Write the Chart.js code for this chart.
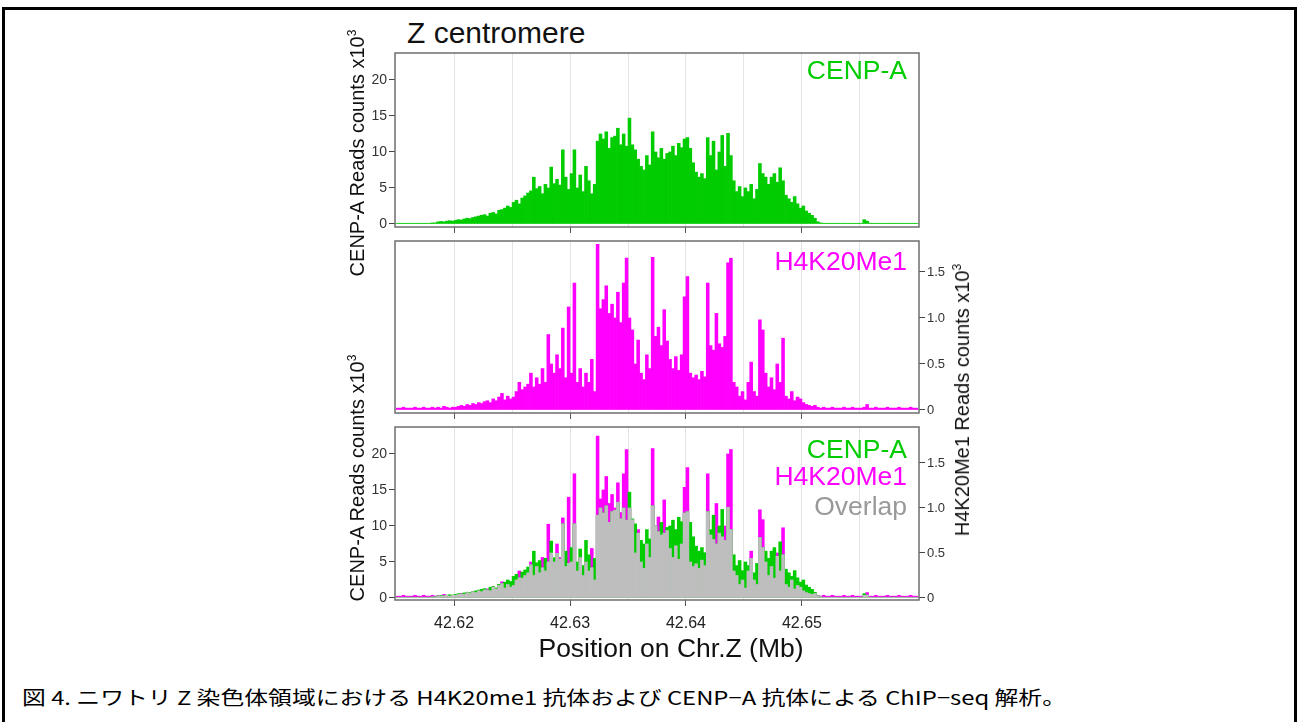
<!DOCTYPE html>
<html>
<head>
<meta charset="utf-8">
<script src="https://cdn.jsdelivr.net/npm/chart.js@4.4.1/dist/chart.umd.min.js"></script>
<style>
  body { margin:0; width:1298px; height:722px; position:relative; overflow:hidden; background:#fff; font-family:'Liberation Sans', Arial, sans-serif; }
  .frame { position:absolute; left:2px; top:7px; width:1295px; height:740px; border:3px solid #000; box-sizing:border-box; }
  canvas.panel { position:absolute; }
  .lbl { position:absolute; white-space:nowrap; line-height:1; }
  .rot { position:absolute; white-space:nowrap; line-height:1; font-size:20px; color:#111; transform:translate(-50%,-50%) rotate(-90deg); }
  sup { font-size:0.6em; vertical-align:0.65em; line-height:0; }
  #caption { position:absolute; left:22px; top:687px; font-family:'Noto Sans CJK JP', sans-serif; font-size:19px; line-height:1; color:#000; white-space:nowrap; transform-origin:left center; }
</style>
</head>
<body>
<div class="frame"></div>

<div class="lbl" style="left:407px; top:18px; font-size:30px; color:#111;">Z centromere</div>

<canvas id="topChart" class="panel" width="700" height="200" style="left:300px; top:40px;"></canvas>
<canvas id="midChart" class="panel" width="700" height="200" style="left:300px; top:230px;"></canvas>
<canvas id="botChart" class="panel" width="700" height="265" style="left:300px; top:415px;"></canvas>

<div class="lbl" style="right:391px; top:57px; font-size:26.5px; color:#00cc00;">CENP-A</div>
<div class="lbl" style="right:391px; top:248px; font-size:26.5px; color:#ff00ff;">H4K20Me1</div>
<div class="lbl" style="right:391px; top:436px; font-size:26.5px; color:#00cc00;">CENP-A</div>
<div class="lbl" style="right:391px; top:463px; font-size:26.5px; color:#ff00ff;">H4K20Me1</div>
<div class="lbl" style="right:391px; top:493px; font-size:26.5px; color:#999999;">Overlap</div>

<div class="rot" style="left:357px; top:153px;">CENP-A Reads counts x10<sup>3</sup></div>
<div class="rot" style="left:357px; top:478px;">CENP-A Reads counts x10<sup>3</sup></div>
<div class="rot" style="left:962px; top:400px;">H4K20Me1 Reads counts x10<sup>3</sup></div>

<div class="lbl" style="left:671px; top:635px; font-size:26.5px; color:#111; transform:translateX(-50%);">Position on Chr.Z (Mb)</div>

<div id="caption">図 4. ニワトリ Z 染色体領域における H4K20me1 抗体および CENP−A 抗体による ChIP−seq 解析。</div>

<script>
// bins of 0.25 kb starting at 42.615 Mb
const binStart = 42.615;
const binWidth = 0.00025;

// CENP-A reads (x10^3)
const cenpa = [
  0.1,0.1,0.1,0.1,0.1,0.1,0.1,0.1,0.1,0.1,0.1,0.1,0.15,0.15,
  0.3,0.35,0.3,0.4,0.45,0.4,
  0.5,0.6,0.55,0.7,0.8,0.75,0.9,1.0,1.1,
  1.2,1.3,1.1,1.5,1.6,1.4,1.9,2.0,2.2,2.5,2.3,
  3.0,3.3,2.8,3.6,3.9,4.3,
  4.6,6.5,4.9,5.2,4.2,5.5,
  5.0,7.9,5.6,6.2,5.4,
  10.3,6.5,4.8,7.0,
  10.3,5.0,6.8,4.5,8.0,6.0,4.2,5.5,
  11.5,12.5,11.8,12.8,10.5,12.0,
  12.2,13.3,11.0,12.5,10.8,
  14.7,
  11.0,10.3,9.0,8.0,7.5,9.5,8.2,
  12.8,
  10.0,9.2,10.5,9.0,9.8,
  10.0,10.8,9.5,11.2,10.6,11.8,
  12.0,10.5,8.5,7.2,6.5,7.0,
  6.3,12.0,9.5,11.5,7.5,10.0,12.3,8.0,
  12.6,9.5,6.0,
  4.5,5.2,3.8,5.0,4.5,5.5,3.5,4.8,
  8.4,7.0,6.5,5.5,
  6.5,7.0,5.8,7.8,6.0,
  4.0,3.5,3.0,3.8,2.8,
  2.2,2.5,1.8,1.5,1.2,0.8,
  0.3,0.15,
  0.1,0.1,0.1,0.1,0.1,0.1,0.1,0.1,0.1,0.1,0.1,0.1,0.1,0.1,
  0.6,0.4,
  0.1,0.1,0.1,0.1,0.1,0.1,0.1,0.1,0.1,0.1,0.1,0.1,0.1,0.1,0.1,0.1,0.1
];

// H4K20Me1 reads (x10^3)
const h4 = [
  0.02,0.02,0.03,0.02,0.02,0.02,0.03,0.02,0.02,0.03,0.02,0.02,0.03,0.02,
  0.03,0.02,0.04,0.03,0.02,0.03,
  0.03,0.04,0.05,0.04,0.06,0.05,0.07,0.06,0.08,
  0.07,0.09,0.1,0.08,0.12,0.1,0.14,
  0.18,0.11,0.15,0.12,
  0.14,0.2,0.3,0.22,0.25,0.28,
  0.4,0.25,0.35,0.28,0.45,0.3,
  0.82,0.5,0.4,0.6,0.45,
  0.89,0.35,1.12,0.4,
  1.38,0.3,0.45,0.25,0.4,0.3,0.55,0.2,
  1.8,1.1,1.2,1.35,1.05,1.15,
  1.0,1.28,0.95,1.38,
  1.65,
  1.0,
  0.87,0.5,0.76,0.4,0.33,0.6,0.45,
  1.66,
  0.8,0.9,0.7,1.09,0.75,
  0.55,0.45,0.58,0.43,0.6,1.23,
  1.45,
  0.4,0.35,0.38,0.33,0.42,0.36,
  1.38,
  0.7,0.65,1.05,0.72,0.68,0.8,
  1.6,
  1.65,0.3,
  0.25,0.15,0.2,0.11,0.3,0.52,0.2,0.15,
  0.98,0.87,
  0.4,0.25,0.35,0.22,0.5,0.3,
  0.78,
  0.15,0.12,0.2,0.1,0.14,0.12,
  0.08,0.06,0.05,0.04,0.05,0.03,
  0.02,0.03,0.02,0.02,0.03,0.02,0.02,0.02,0.03,0.02,0.02,0.03,0.02,0.02,0.02,0.03,
  0.06,
  0.02,0.02,0.03,0.02,0.02,0.02,0.03,0.02,0.02,0.02,0.03,0.02,0.02,0.02,0.03,0.02,0.02
];

const gridTicks = [42.62, 42.625, 42.63, 42.635, 42.64, 42.645, 42.65, 42.655];
const labelTicks = [42.62, 42.63, 42.64, 42.65];
const cenpaTicks = [0, 5, 10, 15, 20];
const h4Ticks = [0, 0.5, 1.0, 1.5];

const xRange = [42.6149, 42.6601];
const topRange = [-0.42, 23.75];
const midRange = [-0.033, 1.837];
const botRange = [-0.28, 23.75];
const h4Scale = 12.5; // bottom panel: 1 unit of H4K20Me1 axis = 12.5 units of CENP-A axis

const GREEN = '#00cc00';
const MAGENTA = '#ff00ff';
const GREY = '#bebebe';

Chart.defaults.font.family = "'Liberation Sans', Arial, sans-serif";
Chart.defaults.animation = false;

const positions = cenpa.map((_, i) => binStart + (i + 0.5) * binWidth);
const toPoints = arr => arr.map((v, i) => ({ x: positions[i], y: v }));
const overlap = cenpa.map((v, i) => Math.min(v, h4[i] * h4Scale));

const isMajor = v => labelTicks.some(t => Math.abs(t - v) < 1e-6);

const boxPlugin = {
  id: 'box',
  afterDraw(chart) {
    const { ctx, chartArea: a } = chart;
    ctx.save();
    ctx.strokeStyle = '#6e6e6e';
    ctx.lineWidth = 1.5;
    ctx.strokeRect(a.left, a.top, a.right - a.left, a.bottom - a.top);
    ctx.restore();
  }
};

function xScale(showLabels, height) {
  return {
    type: 'linear',
    min: xRange[0],
    max: xRange[1],
    offset: false,
    afterBuildTicks: s => { s.ticks = gridTicks.map(v => ({ value: v })); },
    afterFit: s => { s.height = height; },
    grid: {
      offset: false,
      color: '#e3e3e3',
      lineWidth: 1,
      tickLength: 6,
      tickColor: c => (c.tick && isMajor(c.tick.value)) ? '#555' : 'rgba(0,0,0,0)'
    },
    border: { display: false },
    ticks: {
      display: showLabels,
      autoSkip: false,
      maxRotation: 0,
      color: '#222',
      font: { size: 16 },
      padding: 8,
      callback: v => isMajor(v) ? v.toFixed(2) : ''
    }
  };
}

function yScale(pos, range, ticks, width, size, fmt) {
  return {
    type: 'linear',
    position: pos,
    min: range[0],
    max: range[1],
    afterBuildTicks: s => { s.ticks = ticks.map(v => ({ value: v })); },
    afterFit: s => { s.width = width; },
    grid: { drawOnChartArea: false, tickLength: 6, tickColor: '#444', lineWidth: 1 },
    border: { display: false },
    ticks: { color: '#333', font: { size: size }, padding: 2, callback: fmt }
  };
}

const fmtCenpa = v => String(v);
const fmtH4 = v => v === 0 ? '0' : v.toFixed(1);

function barSet(label, data, color, axis, order) {
  return {
    label: label,
    data: toPoints(data),
    yAxisID: axis,
    backgroundColor: color,
    borderWidth: 0,
    barPercentage: 1,
    categoryPercentage: 1,
    grouped: false,
    order: order
  };
}

const commonPlugins = { legend: { display: false }, tooltip: { enabled: false } };

new Chart(document.getElementById('topChart'), {
  type: 'bar',
  data: { datasets: [barSet('CENP-A', cenpa, GREEN, 'y', 1)] },
  options: {
    responsive: false,
    layout: { padding: { top: 13, right: 81, left: 0, bottom: 0 } },
    plugins: commonPlugins,
    scales: {
      x: xScale(false, 13),
      y: yScale('left', topRange, cenpaTicks, 95, 14, fmtCenpa)
    }
  },
  plugins: [boxPlugin]
});

new Chart(document.getElementById('midChart'), {
  type: 'bar',
  data: { datasets: [barSet('H4K20Me1', h4, MAGENTA, 'y', 1)] },
  options: {
    responsive: false,
    layout: { padding: { top: 11, right: 0, left: 95, bottom: 0 } },
    plugins: commonPlugins,
    scales: {
      x: xScale(false, 17),
      y: yScale('right', midRange, h4Ticks, 81, 13, fmtH4)
    }
  },
  plugins: [boxPlugin]
});

new Chart(document.getElementById('botChart'), {
  type: 'bar',
  data: {
    datasets: [
      barSet('H4K20Me1', h4, MAGENTA, 'y2', 3),
      barSet('CENP-A', cenpa, GREEN, 'y', 2),
      barSet('Overlap', overlap, GREY, 'y', 1)
    ]
  },
  options: {
    responsive: false,
    layout: { padding: { top: 12, right: 0, left: 0, bottom: 0 } },
    plugins: commonPlugins,
    scales: {
      x: xScale(true, 80),
      y: yScale('left', botRange, cenpaTicks, 95, 14, fmtCenpa),
      y2: yScale('right', [botRange[0] / h4Scale, botRange[1] / h4Scale], h4Ticks, 81, 13, fmtH4)
    }
  },
  plugins: [boxPlugin]
});

// squeeze caption to the width it has in the figure
const cap = document.getElementById('caption');
cap.style.transform = 'scaleX(' + (1044 / cap.getBoundingClientRect().width) + ')';
</script>
</body>
</html>
